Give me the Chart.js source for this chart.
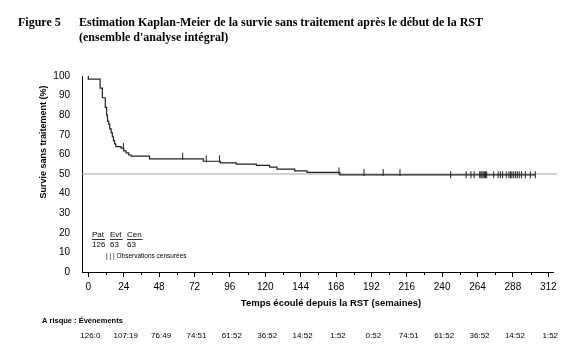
<!DOCTYPE html>
<html>
<head>
<meta charset="utf-8">
<script src="https://cdn.jsdelivr.net/npm/chart.js@4.4.1/dist/chart.umd.min.js"></script>
<style>
  html, body { margin: 0; padding: 0; background: #fff; }
  #wrap { width: 580px; height: 358px; }
</style>
</head>
<body>
<div id="wrap"><canvas id="c" width="580" height="358"></canvas></div>
<script>
// Kaplan-Meier steps (weeks, % survival after the step)
const weeks = [0, 8, 9.5, 11.5, 12.4, 13, 13.8, 14.5, 15.5, 16.3, 17, 17.8, 18.6, 22.2, 24, 25.6, 27.4, 29, 41.5, 78, 89.5, 100.3, 114, 123, 128, 140, 148.4, 170.6, 227.7, 303.2];
const survival = [100, 98.4, 93.8, 88.9, 84, 80, 77, 75.4, 73, 71, 69, 67, 65.4, 64, 63.2, 61.8, 60.8, 59.7, 59.1, 57.7, 56.5, 55.7, 55, 54.4, 53.5, 52.5, 51.6, 50.8, 49.6, 49.6];
// censored observations (weeks)
const censored = [23.8, 64, 80, 89, 170, 187, 200, 211.4, 245.8, 256.3, 259.5, 261.7, 265.5, 266.3, 267, 267.8, 268.6, 269.4, 270.2, 275, 278, 279.5, 281, 283.5, 285.3, 286.3, 287.3, 288.5, 289.8, 291, 292.3, 293.8, 296.4, 299.8, 303.2];
const xTicks = [0, 24, 48, 72, 96, 120, 144, 168, 192, 216, 240, 264, 288, 312];
const atRisk = ['126:0', '107:19', '76:49', '74:51', '61:52', '36:52', '14:52', '1:52', '0:52', '74:51', '61:52', '36:52', '14:52', '1:52'];
const medianLine = 50;

function survivalAt(t) {
    let s = survival[0];
    for (let i = 0; i < weeks.length; i++) {
        if (weeks[i] <= t) s = survival[i];
    }
    return s;
}

const SANS = '"Liberation Sans", Arial, sans-serif';
const SERIF = '"Liberation Serif", "Times New Roman", serif';

const extras = {
    id: 'extras',
    afterDraw(chart) {
        const ctx = chart.ctx;
        const x = chart.scales.x;
        const y = chart.scales.y;
        ctx.save();
        ctx.fillStyle = '#000';
        ctx.strokeStyle = '#000';

        // minor ticks
        ctx.lineWidth = 1;
        ctx.beginPath();
        for (let i = 0; i < xTicks.length - 1; i++) {
            const px = Math.round(x.getPixelForValue((xTicks[i] + xTicks[i + 1]) / 2)) + 0.5;
            ctx.moveTo(px, y.bottom);
            ctx.lineTo(px, y.bottom + 3);
        }
        ctx.stroke();

        // heading
        ctx.textBaseline = 'alphabetic';
        ctx.textAlign = 'left';
        ctx.font = 'bold 12px ' + SERIF;
        ctx.fillText('Figure 5', 18, 26);
        ctx.fillText('Estimation Kaplan-Meier de la survie sans traitement après le début de la RST', 79, 26);
        ctx.fillText("(ensemble d'analyse intégral)", 79, 41);

        // axis titles
        ctx.font = 'bold 9px ' + SANS;
        ctx.textAlign = 'center';
        ctx.textBaseline = 'middle';
        ctx.save();
        ctx.translate(44, 142);
        ctx.rotate(-Math.PI / 2);
        ctx.fillText('Survie sans traitement (%)', 0, 0);
        ctx.restore();
        ctx.font = 'bold 9.5px ' + SANS;
        ctx.fillText('Temps écoulé depuis la RST (semaines)', 331, 303);

        // number at risk
        ctx.font = 'bold 7.5px ' + SANS;
        ctx.textAlign = 'left';
        ctx.fillText('A risque : Événements', 42, 321);
        ctx.font = '8px ' + SANS;
        ctx.textAlign = 'center';
        atRisk.forEach((txt, i) => {
            ctx.fillText(txt, x.getPixelForValue(xTicks[i]) + 2, 336);
        });

        // legend box
        ctx.font = '8px ' + SANS;
        ctx.textAlign = 'left';
        const cols = [['Pat', '126', 92], ['Evt', '63', 110], ['Cen', '63', 127]];
        ctx.lineWidth = 0.8;
        cols.forEach(([h, v, px]) => {
            ctx.fillText(h, px, 235);
            const w = ctx.measureText(h).width;
            ctx.beginPath();
            ctx.moveTo(px, 239.5);
            ctx.lineTo(px + w + 1, 239.5);
            ctx.stroke();
            ctx.fillText(v, px, 245);
        });
        ctx.font = '6.5px ' + SANS;
        ctx.fillText('| | | Observations censurées', 106, 256);
        ctx.restore();
    }
};

new Chart(document.getElementById('c'), {
    type: 'line',
    data: {
        datasets: [
            {
                data: censored.map(t => ({ x: t, y: survivalAt(t) })),
                showLine: false,
                pointStyle: 'line',
                rotation: 90,
                pointRadius: 3.5,
                pointBorderWidth: 1,
                pointBorderColor: '#222',
                order: 1,
                clip: false
            },
            {
                data: weeks.map((t, i) => ({ x: t, y: survival[i] })),
                stepped: 'after',
                borderColor: '#222',
                borderWidth: 1.2,
                pointRadius: 0,
                order: 2,
                clip: false
            },
            {
                data: [{ x: -4.3, y: medianLine }, { x: 318, y: medianLine }],
                borderColor: '#a0a0a0',
                borderWidth: 1,
                pointRadius: 0,
                order: 3,
                clip: false
            }
        ]
    },
    options: {
        responsive: false,
        animation: false,
        layout: { padding: { left: 0, right: 27, top: 76, bottom: 0 } },
        plugins: {
            legend: { display: false },
            tooltip: { enabled: false }
        },
        scales: {
            x: {
                type: 'linear',
                min: -4.3,
                max: 315.2,
                afterBuildTicks: s => { s.ticks = xTicks.map(v => ({ value: v })); },
                afterFit: s => { s.height = 86; },
                ticks: {
                    autoSkip: false,
                    maxRotation: 0,
                    padding: 4,
                    color: '#000',
                    font: { family: SANS, size: 10 }
                },
                grid: { drawOnChartArea: false, drawTicks: true, tickLength: 5, color: '#000' },
                border: { display: true, color: '#000', width: 1 }
            },
            y: {
                min: 0,
                max: 100,
                afterFit: s => { s.width = 82; },
                ticks: {
                    stepSize: 10,
                    padding: 12,
                    color: '#000',
                    font: { family: SANS, size: 10 }
                },
                grid: { display: false, drawTicks: false },
                border: { display: true, color: '#000', width: 1 }
            }
        }
    },
    plugins: [extras]
});
</script>
</body>
</html>
